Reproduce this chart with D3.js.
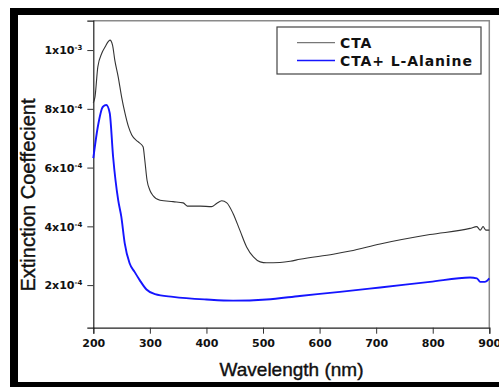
<!DOCTYPE html>
<html>
<head>
<meta charset="utf-8">
<script src="https://cdn.jsdelivr.net/npm/d3@7"></script>
<style>
  body { margin: 0; background: #fff; }
  svg { display: block; }
</style>
</head>
<body>
<svg></svg>
<script>
// wavelength (nm) and extinction coefficient
const ctaWave = [200, 203, 208, 215, 221, 226, 229.5, 234, 238, 244, 250, 256, 262, 268, 279, 288, 291, 295, 300, 305, 318, 341, 359, 366, 389, 409, 418, 427, 436, 447, 459, 471, 483, 495, 506, 530, 548, 565, 624, 654, 707, 795, 866, 878, 884, 889, 894, 900];
const ctaValue = [8.20e-4, 8.41e-4, 9.43e-4, 9.89e-4, 10.11e-4, 10.28e-4, 10.34e-4, 10.17e-4, 9.66e-4, 9.09e-4, 8.41e-4, 7.85e-4, 7.40e-4, 7.11e-4, 6.88e-4, 6.71e-4, 6.26e-4, 5.57e-4, 5.23e-4, 5.06e-4, 4.89e-4, 4.84e-4, 4.80e-4, 4.69e-4, 4.69e-4, 4.67e-4, 4.78e-4, 4.87e-4, 4.80e-4, 4.44e-4, 3.87e-4, 3.30e-4, 2.96e-4, 2.79e-4, 2.76e-4, 2.77e-4, 2.81e-4, 2.88e-4, 3.05e-4, 3.16e-4, 3.40e-4, 3.72e-4, 3.93e-4, 3.99e-4, 3.87e-4, 3.99e-4, 3.87e-4, 3.87e-4];

const alaWave = [200, 208, 217, 223, 229, 235, 244, 249.5, 255.5, 264, 273, 282, 294, 309, 341, 400, 447, 506, 565, 636, 707, 795, 866, 878, 884, 892, 900];
const alaValue = [6.32e-4, 7.39e-4, 8.07e-4, 8.13e-4, 7.86e-4, 6.37e-4, 4.89e-4, 4.33e-4, 3.43e-4, 2.75e-4, 2.45e-4, 2.17e-4, 1.85e-4, 1.69e-4, 1.60e-4, 1.51e-4, 1.47e-4, 1.51e-4, 1.63e-4, 1.77e-4, 1.92e-4, 2.11e-4, 2.26e-4, 2.23e-4, 2.11e-4, 2.11e-4, 2.23e-4];

const seriesNames = ["CTA", "CTA+ L-Alanine"];
const seriesColors = ["#333333", "#1515ff"];
const xTicks = [200, 300, 400, 500, 600, 700, 800, 900];
const yTicks = [2e-4, 4e-4, 6e-4, 8e-4, 1e-3];
const yTickMant = ["2x10", "4x10", "6x10", "8x10", "1x10"];
const yTickExp = ["-4", "-4", "-4", "-4", "-3"];

const width = 499, height = 387;
const svg = d3.select("svg").attr("width", width).attr("height", height);

// black frame around the figure (cut off on the right)
svg.append("rect").attr("x", 10).attr("y", 8).attr("width", 489).attr("height", 379).attr("fill", "#000");
svg.append("rect").attr("x", 18).attr("y", 15).attr("width", 481).attr("height", 367).attr("fill", "#fff");

const x = d3.scaleLinear().domain([200, 900]).range([93.3, 489.3]);
const y = d3.scaleLinear().domain([0.055e-3, 1.1e-3]).range([327.7, 20.7]);

// top and right frame lines
svg.append("path")
    .attr("d", `M${x(200)},${y(1.1e-3)}H${x(900)}V${y(0.055e-3)}`)
    .attr("fill", "none").attr("stroke", "#8a8a8a").attr("stroke-width", 1.5);

const tickFont = "'DejaVu Sans', sans-serif";

const xAxis = svg.append("g")
    .attr("transform", `translate(0,${y(0.055e-3)})`)
    .call(d3.axisBottom(x).tickValues(xTicks).tickSize(6).tickPadding(6).tickFormat(d3.format("d")));
xAxis.selectAll("text").attr("font-family", tickFont).attr("font-weight", "bold").attr("font-size", 11).attr("fill", "#111");

const yAxis = svg.append("g")
    .attr("transform", `translate(${x(200)},0)`)
    .call(d3.axisLeft(y).tickValues(yTicks).tickSize(6).tickFormat(""));
yAxis.selectAll(".tick").append("text")
    .attr("x", -11).attr("dy", "0.35em")
    .attr("text-anchor", "end")
    .attr("font-family", tickFont).attr("font-weight", "bold").attr("font-size", 11).attr("fill", "#111")
    .each(function (d, i) {
        const t = d3.select(this);
        t.append("tspan").text(yTickMant[i]);
        t.append("tspan").attr("font-size", 7).attr("dy", "-0.6em").text(yTickExp[i]);
    });

[xAxis, yAxis].forEach(a => {
    a.select(".domain").attr("stroke", "#222").attr("stroke-width", 1.2);
    a.selectAll(".tick line").attr("stroke", "#333");
});

// axis titles
svg.append("text")
    .attr("x", 291.5).attr("y", 376)
    .attr("text-anchor", "middle")
    .attr("font-family", "'Liberation Sans', Arial, sans-serif").attr("font-size", 19)
    .attr("fill", "#111").attr("stroke", "#111").attr("stroke-width", 0.4)
    .text("Wavelength (nm)");

svg.append("text")
    .attr("transform", "translate(35,195) rotate(-90)")
    .attr("text-anchor", "middle")
    .attr("font-family", "'Liberation Sans', Arial, sans-serif").attr("font-size", 20)
    .attr("fill", "#111").attr("stroke", "#111").attr("stroke-width", 0.4)
    .text("Extinction Coeffecient");

// curves
const line = d3.line()
    .x(d => x(d[0]))
    .y(d => y(d[1]))
    .curve(d3.curveMonotoneX);

const series = [
    d3.zip(ctaWave, ctaValue),
    d3.zip(alaWave, alaValue)
];

svg.append("path").datum(series[0])
    .attr("d", line).attr("fill", "none")
    .attr("stroke", seriesColors[0]).attr("stroke-width", 1.1);
svg.append("path").datum(series[1])
    .attr("d", line).attr("fill", "none")
    .attr("stroke", seriesColors[1]).attr("stroke-width", 1.9);

// legend
const legend = svg.append("g");
legend.append("rect")
    .attr("x", 277).attr("y", 27).attr("width", 204).attr("height", 47)
    .attr("fill", "#fff").attr("stroke", "#444").attr("stroke-width", 1.2);

const legendRows = legend.selectAll(".row")
    .data(seriesNames)
    .enter().append("g")
    .attr("class", "row")
    .attr("transform", (d, i) => `translate(0,${i === 0 ? 42.7 : 60.5})`);

legendRows.append("line")
    .attr("x1", 297).attr("x2", 335)
    .attr("stroke", (d, i) => i === 0 ? "#777" : seriesColors[1])
    .attr("stroke-width", (d, i) => i === 0 ? 1.3 : 1.6);

legendRows.append("text")
    .attr("x", 340).attr("dy", "0.36em")
    .attr("font-family", tickFont).attr("font-weight", "bold").attr("font-size", 14)
    .attr("letter-spacing", 0.9)
    .attr("fill", "#111")
    .text(d => d);
</script>
</body>
</html>
